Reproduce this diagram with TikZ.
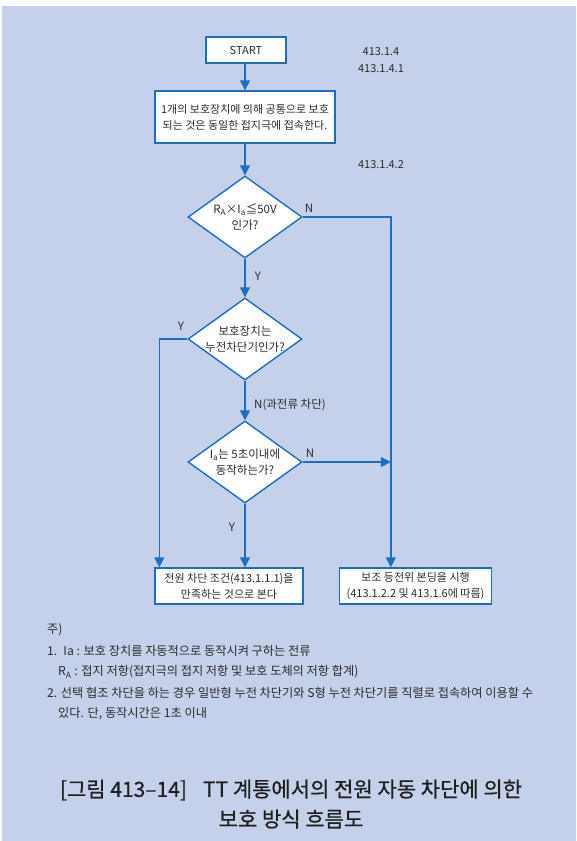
\documentclass[tikz,border=0pt]{standalone}
\usepackage{fontspec}
\setmainfont{Noto Sans CJK KR}
\usetikzlibrary{shapes.geometric,arrows.meta,calc}
\definecolor{bg}{HTML}{C5D1EA}
\definecolor{ln}{HTML}{1F6EBD}
\definecolor{tx}{HTML}{2B2B2B}
\begin{document}
\begin{tikzpicture}[x=1pt,y=-1pt,
  every node/.style={text=tx},
  box/.style={draw=ln, line width=1.4pt, fill=white, align=center, inner sep=2pt,
    font=\fontsize{11}{16}\selectfont},
  dec/.style={diamond, draw=ln, line width=1.4pt, fill=white, aspect=1.39,
    minimum width=114pt, minimum height=82pt, inner sep=-3pt, align=center,
    font=\fontsize{11.5}{16}\selectfont},
  arr/.style={draw=ln, line width=1.4pt, -{Triangle[length=10pt,width=10pt]}},
  lbl/.style={font=\fontsize{11.5}{13}\selectfont, inner sep=0pt},
  sec/.style={font=\fontsize{11}{13}\selectfont, inner sep=0pt},
  note/.style={font=\fontsize{12.2}{14}\selectfont, inner sep=0pt, anchor=west},
  ttl/.style={font=\fontsize{21}{24}\selectfont\addfontfeatures{FakeBold=0.6}, inner sep=0pt, text=black!88}]
\useasboundingbox (0,0) rectangle (576,841);
\fill[white] (0,0) rectangle (576,841);
\fill[bg] (2,6) rectangle (576,841);

\node[box, minimum width=80pt, minimum height=26pt] (start) at (246,50) {START};
\node[box, minimum width=180pt, minimum height=52pt] (prot) at (245,117)
  {1개의 보호장치에 의해 공통으로 보호\\되는 것은 동일한 접지극에 접속한다.};
\node[dec] (d1) at (245,217) {R\textsubscript{A}×I\textsubscript{a}≦50V\\인가?};
\node[dec] (d2) at (245,339) {보호장치는\\누전차단기인가?};
\node[dec] (d3) at (245,462) {I\textsubscript{a}는 5초이내에\\동작하는가?};
\node[box, minimum width=148pt, minimum height=36pt] (b3) at (229,586)
  {전원 차단 조건(413.1.1.1)을\\만족하는 것으로 본다};
\node[box, minimum width=152pt, minimum height=36pt] (b4) at (415.5,586)
  {보조 등전위 본딩을 시행\\(413.1.2.2 및 413.1.6에 따름)};

\coordinate (b3in) at ($(b3.north west)+(5,0)$);
\coordinate (b4in) at ($(b4.north west)+(52,0)$);

\draw[arr] (start.south -| prot.north) -- (prot.north);
\draw[arr] (prot) -- (d1);
\draw[arr] (d1) -- (d2);
\draw[arr] (d2) -- (d3);
\draw[arr] (d3.south) -- (d3.south |- b3.north);
\draw[arr] (d2.west) -| (b3in);
\draw[arr] (d1.east) -| (b4in);
\draw[arr] (d3.east) -- (d3.east -| b4in);

\node[lbl] (n1) at (309,208) {N};
\node[lbl] (y1) at (258,276) {Y};
\node[lbl] (y2) at (181,326) {Y};
\node[lbl, anchor=west] (n2) at (254,405) {N(과전류 차단)};
\node[lbl] (n3) at (310,453) {N};
\node[lbl] (y3) at (232,527) {Y};

\node[sec] (s1) at (381,52) {413.1.4};
\node[sec] (s2) at (381,69) {413.1.4.1};
\node[sec] (s3) at (381,165) {413.1.4.2};

\node[note] (t0) at (47,630) {주)};
\node[note] (t1) at (47,651) {1.\enspace Ia : 보호 장치를 자동적으로 동작시켜 구하는 전류};
\node[note] (t2) at (58,672) {R\textsubscript{A} : 접지 저항(접지극의 접지 저항 및 보호 도체의 저항 합계)};
\node[note] (t3) at (47,693) {2. 선택 협조 차단을 하는 경우 일반형 누전 차단기와 S형 누전 차단기를 직렬로 접속하여 이용할 수};
\node[note] (t4) at (58,714) {있다. 단, 동작시간은 1초 이내};

\node[ttl] (title1) at (291,790) {[그림 413–14]\hspace{16pt}TT 계통에서의 전원 자동 차단에 의한};
\node[ttl] (title2) at (291,819) {보호 방식 흐름도};
\end{tikzpicture}
\end{document}
